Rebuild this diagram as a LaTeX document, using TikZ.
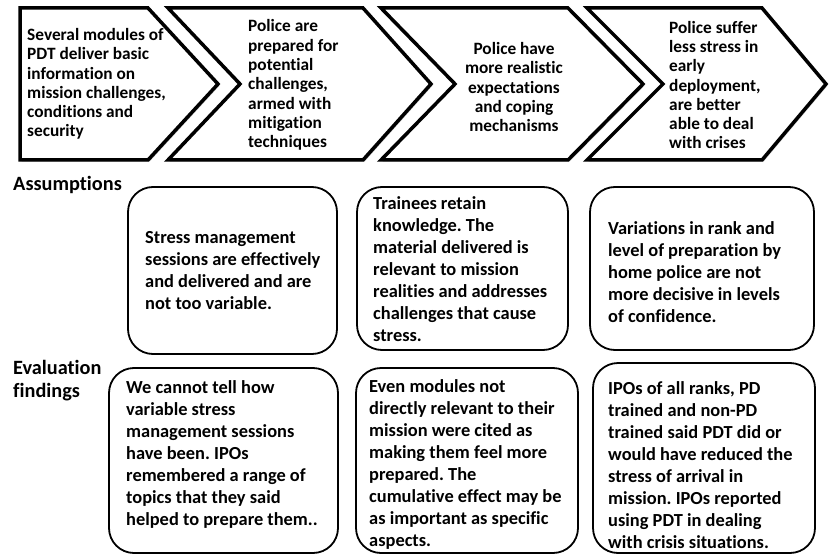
\documentclass[tikz,border=0pt]{standalone}
\usepackage{fontspec}
\setmainfont{Carlito}[Ligatures=NoCommon]
\usetikzlibrary{shadows}
\frenchspacing
\begin{document}
\begin{tikzpicture}[x=1pt,y=-1pt,
  chev/.style={draw=black, line width=3.5pt, fill=white, line join=miter,
    drop shadow={shadow xshift=1.6pt, shadow yshift=-1.6pt, fill=black!60, opacity=0.35}},
  box/.style={draw=black, line width=1.8pt, rounded corners=25pt, fill=white,
    inner sep=0pt},
  toptext/.style={inner sep=0pt, align=left, anchor=west,
    font=\bfseries\fontsize{17.3}{19.3}\selectfont},
  boxtext/.style={inner sep=0pt, align=left, anchor=west,
    font=\bfseries\fontsize{18.4}{22}\selectfont},
  rowlabel/.style={inner sep=0pt, align=left, anchor=west,
    font=\bfseries\fontsize{20.3}{23}\selectfont}]
\useasboundingbox (0,0) rectangle (829,556);

% results chain
\path[chev] (20,8) -- (148,8) -- (218,84) -- (148,160) -- (20,160) -- cycle;
\path[chev] (168,8) -- (363,8) -- (431,84) -- (363,160) -- (168,160) -- (240,84) -- cycle;
\path[chev] (381,8) -- (568,8) -- (643,84) -- (568,160) -- (381,160) -- (455,84) -- cycle;
\path[chev] (587,8) -- (762,8) -- (826,84) -- (762,160) -- (587,160) -- (663,84) -- cycle;

\node[toptext] (c1t) at (27,84) {Several modules of\\PDT deliver basic\\information on\\mission challenges,\\conditions and\\security};
\node[toptext] (c2t) at (248,85) {Police are\\prepared for\\potential\\challenges,\\armed with\\mitigation\\techniques};
\node[toptext, align=center, anchor=center] (c3t) at (514,87) {Police have\\more realistic\\expectations\\and coping\\mechanisms};
\node[toptext] (c4t) at (669,85) {Police suffer\\less stress in\\early\\deployment,\\are better\\able to deal\\with crises};

% row labels
\node[rowlabel] (lassume) at (13,185) {Assumptions};
\node[rowlabel] (leval) at (13,381) {Evaluation\\findings};

% assumptions
\node[box, minimum width=209pt, minimum height=167pt] (a1) at (232.5,270.5) {};
\node[box, minimum width=211pt, minimum height=163pt] (a2) at (462.5,268.5) {};
\node[box, minimum width=224pt, minimum height=163pt] (a3) at (702,268.5) {};
\node[boxtext] (a1t) at (145,271) {Stress management\\sessions are effectively\\and delivered and are\\not too variable.};
\node[boxtext] (a2t) at (373,269) {Trainees retain\\knowledge. The\\material delivered is\\relevant to mission\\realities and addresses\\challenges that cause\\stress.};
\node[boxtext] (a3t) at (608,272) {Variations in rank and\\level of preparation by\\home police are not\\more decisive in levels\\of confidence.};

% evaluation findings
\node[box, minimum width=229pt, minimum height=185pt] (e1) at (223.5,460.5) {};
\node[box, minimum width=222pt, minimum height=185pt] (e2) at (467,460.5) {};
\node[box, minimum width=222pt, minimum height=190pt] (e3) at (704,458) {};
\node[boxtext] (e1t) at (126,454) {We cannot tell how\\variable stress\\management sessions\\have been. IPOs\\remembered a range of\\topics that they said\\helped to prepare them..};
\node[boxtext] (e2t) at (369,464) {Even modules not\\directly relevant to their\\mission were cited as\\making them feel more\\prepared. The\\cumulative effect may be\\as important as specific\\aspects.};
\node[boxtext] (e3t) at (608,465) {IPOs of all ranks, PD\\trained and non-PD\\trained said PDT did or\\would have reduced the\\stress of arrival in\\mission. IPOs reported\\using PDT in dealing\\with crisis situations.};
\end{tikzpicture}
\end{document}
